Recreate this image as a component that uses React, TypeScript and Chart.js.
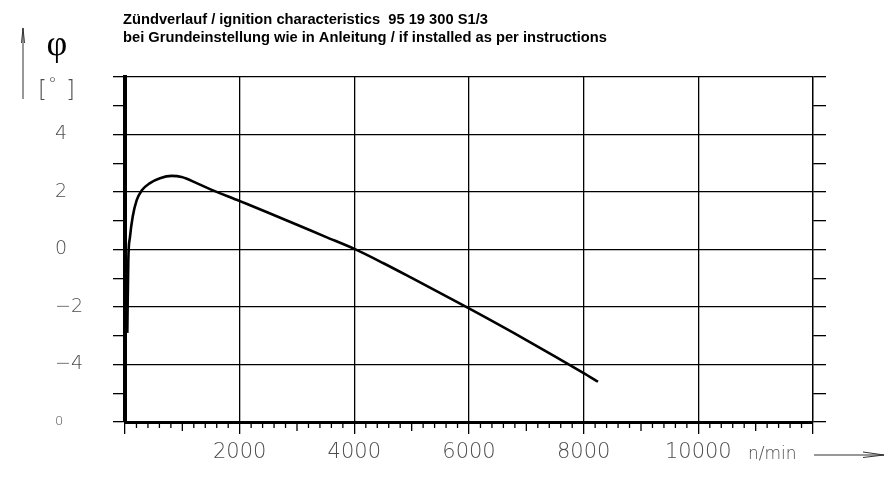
import { useEffect, useRef } from 'react';
import { Chart, registerables } from 'chart.js';

Chart.register(...registerables);

// values
const rpm = [40, 58, 87, 134, 204, 290, 436, 610, 814, 988, 1250, 1482, 1993, 2500, 3000, 3500, 4000, 4500, 5000, 6000, 7000, 8000, 8250];
const advance = [-2.9, -0.36, 0.44, 1.14, 1.72, 2.05, 2.31, 2.48, 2.56, 2.52, 2.31, 2.1, 1.69, 1.28, 0.86, 0.44, 0.02, -0.47, -0.99, -2.05, -3.15, -4.3, -4.6];

const titleLines = [
  'Zündverlauf / ignition characteristics  95 19 300 S1/3',
  'bei Grundeinstellung wie in Anleitung / if installed as per instructions',
];
const xHidden = [0, 12000];
const unitLabel = 'n/min';

const LABEL_GREY = '#4d4d4d';
const SANS = '"Liberation Sans", Arial, sans-serif';
const CAD = '"DejaVu Sans", sans-serif';

const extrasPlugin = {
  id: 'drawingExtras',
  afterDraw(chart: Chart) {
    const { ctx } = chart;
    const x = chart.scales.x;
    const y = chart.scales.y;
    const bottom = chart.chartArea.bottom;
    ctx.save();

    // minor ticks on the rpm axis
    ctx.strokeStyle = '#000';
    ctx.lineWidth = 1.3;
    for (let v = 200; v < 12000; v += 200) {
      if (v % 2000 === 0) continue;
      const px = x.getPixelForValue(v);
      const len = v % 1000 === 0 ? 9 : 6;
      ctx.beginPath();
      ctx.moveTo(px, bottom);
      ctx.lineTo(px, bottom + len);
      ctx.stroke();
    }

    // title
    ctx.fillStyle = '#000';
    ctx.font = `bold 14.7px ${SANS}`;
    ctx.textAlign = 'left';
    ctx.textBaseline = 'alphabetic';
    ctx.fillText(titleLines[0], 123, 24);
    ctx.fillText(titleLines[1], 123, 42);

    // phi and unit
    ctx.font = '36px "Liberation Serif", serif';
    ctx.textAlign = 'center';
    ctx.fillText('φ', 57, 55);
    ctx.fillStyle = LABEL_GREY;
    ctx.font = `200 23px ${CAD}`;
    ctx.textAlign = 'left';
    ctx.fillText('[', 38, 97);
    ctx.fillText(']', 66, 97);
    ctx.font = `200 18px ${CAD}`;
    ctx.fillText('°', 48, 90);

    // up arrow
    ctx.strokeStyle = '#333';
    ctx.lineWidth = 1;
    ctx.beginPath();
    ctx.moveTo(23, 99);
    ctx.lineTo(23, 28);
    ctx.moveTo(21.5, 43);
    ctx.lineTo(23, 28);
    ctx.lineTo(24.5, 43);
    ctx.stroke();

    // unit label and right arrow
    const yLab = y.getPixelForValue(-6) + 33;
    ctx.fillStyle = LABEL_GREY;
    ctx.font = `200 17px ${CAD}`;
    ctx.textAlign = 'left';
    ctx.textBaseline = 'middle';
    ctx.fillText(unitLabel, 748, yLab);
    ctx.beginPath();
    ctx.moveTo(814, yLab);
    ctx.lineTo(884, yLab);
    ctx.moveTo(863, yLab - 3);
    ctx.lineTo(884, yLab);
    ctx.lineTo(863, yLab + 2.5);
    ctx.stroke();

    ctx.restore();
  },
};

const App = () => {
  const canvasRef = useRef<HTMLCanvasElement>(null);
  const chartRef = useRef<Chart | null>(null);

  useEffect(() => {
    if (!canvasRef.current) return;
    if (chartRef.current) chartRef.current.destroy();

    chartRef.current = new Chart(canvasRef.current, {
      type: 'line',
      data: {
        datasets: [
          {
            data: rpm.map((r, i) => ({ x: r, y: advance[i] })),
            borderColor: '#000',
            borderWidth: 2.6,
            pointRadius: 0,
            cubicInterpolationMode: 'monotone',
            fill: false,
          },
        ],
      },
      options: {
        responsive: true,
        maintainAspectRatio: false,
        animation: false,
        layout: { padding: { left: 55, top: 77, right: 69, bottom: 0 } },
        plugins: {
          legend: { display: false },
          tooltip: { enabled: false },
          title: { display: false },
        },
        scales: {
          x: {
            type: 'linear',
            min: 0,
            max: 12000,
            afterFit: (scale: any) => {
              scale.height = 57;
            },
            ticks: {
              stepSize: 2000,
              padding: 6,
              color: LABEL_GREY,
              font: { family: CAD, size: 21, weight: 200 },
              maxRotation: 0,
              autoSkip: false,
              callback: (v: any) => (xHidden.includes(Number(v)) ? '' : String(v)),
            },
            grid: { color: '#000', lineWidth: 1.3, tickLength: 12, tickColor: '#000' },
            border: { display: true, color: '#000', width: 3 },
          },
          y: {
            type: 'linear',
            position: 'left',
            min: -6,
            max: 6,
            afterFit: (scale: any) => {
              scale.width = 70;
            },
            ticks: {
              stepSize: 1,
              crossAlign: 'far',
              color: LABEL_GREY,
              autoSkip: false,
              font: (c: any) => ({ family: CAD, weight: 200, size: c.tick && c.tick.value === -6 ? 13 : 19 }),
              callback: (v: any) => {
                const n = Number(v);
                if (n === -6) return '0';
                if (n % 2 !== 0 || n === 6) return '';
                return n < 0 ? '\u2212' + Math.abs(n) : String(n);
              },
            },
            grid: {
              color: (c: any) => (c.tick && c.tick.value % 2 === 0 ? '#000' : 'rgba(0,0,0,0)'),
              tickColor: '#000',
              lineWidth: 1.3,
              tickLength: 12,
            },
            border: { display: true, color: '#000', width: 4 },
          },
          y2: {
            type: 'linear',
            position: 'right',
            min: -6,
            max: 6,
            ticks: { display: false, stepSize: 1 },
            grid: { drawOnChartArea: false, color: '#000', lineWidth: 1.3, tickLength: 13 },
            border: { display: true, color: '#000', width: 1.3 },
          },
        },
      },
      plugins: [extrasPlugin],
    });

    return () => {
      if (chartRef.current) {
        chartRef.current.destroy();
        chartRef.current = null;
      }
    };
  }, []);

  return (
    <div style={{ position: 'fixed', left: 0, top: 0, width: 895, height: 479, background: '#fff' }}>
      <canvas ref={canvasRef} />
    </div>
  );
};

export default App;
